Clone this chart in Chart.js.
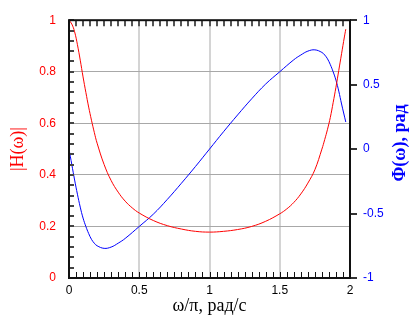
<!doctype html>
<html lang="ru">

<head>
    <meta charset="utf-8">
    <title>АЧХ и ФЧХ</title>
    <script src="https://cdn.jsdelivr.net/npm/chart.js@4.4.0/dist/chart.umd.min.js"></script>
    <style>
        body { margin: 0; background: #fff; }
    </style>
</head>

<body>
    <canvas id="myChart" width="413" height="320"></canvas>

    <script>
        // |H(w)|
        var omegaH = [0, 0.02, 0.04, 0.06, 0.08, 0.10, 0.12, 0.14, 0.16, 0.18, 0.20, 0.25, 0.30, 0.35, 0.40, 0.45, 0.50,
            0.60, 0.70, 0.80, 0.90, 1.00, 1.10, 1.20, 1.30, 1.40, 1.50, 1.55, 1.60, 1.65, 1.70, 1.75, 1.80, 1.82, 1.84,
            1.86, 1.88, 1.90, 1.92, 1.94, 1.96, 1.97];
        var magH = [1.0, 0.985, 0.955, 0.905, 0.845, 0.78, 0.72, 0.663, 0.612, 0.565, 0.523, 0.44, 0.378, 0.333, 0.298,
            0.272, 0.252, 0.223, 0.203, 0.19, 0.181, 0.178, 0.181, 0.188, 0.20, 0.22, 0.249, 0.268, 0.293, 0.326, 0.368,
            0.42, 0.50, 0.537, 0.577, 0.623, 0.68, 0.74, 0.805, 0.87, 0.935, 0.965];

        // Phi(w), rad
        var omegaP = [0, 0.02, 0.04, 0.06, 0.08, 0.10, 0.12, 0.14, 0.16, 0.18, 0.20, 0.25, 0.30, 0.35, 0.40, 0.50, 0.60,
            0.70, 0.80, 0.90, 1.00, 1.10, 1.20, 1.30, 1.40, 1.50, 1.60, 1.65, 1.70, 1.75, 1.80, 1.82, 1.84, 1.86, 1.88,
            1.90, 1.92, 1.94, 1.97];
        var phase = [0.0, -0.12, -0.24, -0.35, -0.45, -0.535, -0.60, -0.655, -0.70, -0.73, -0.75, -0.77, -0.76, -0.73,
            -0.693, -0.60, -0.505, -0.39, -0.265, -0.135, 0.0, 0.135, 0.265, 0.39, 0.505, 0.60, 0.693, 0.73, 0.76, 0.77,
            0.75, 0.73, 0.70, 0.655, 0.60, 0.535, 0.45, 0.35, 0.21];

        var xTitle = 'ω/π, рад/с';
        var yTitle = '|H(ω)|';
        var y2Title = 'Φ(ω), рад';

        var sans = 'Liberation Sans';
        var serif = 'Liberation Serif';

        function pts(xs, ys) {
            return xs.map(function (x, i) { return { x: x, y: ys[i] }; });
        }
        function fmt(v) {
            return String(+v.toFixed(2));
        }

        // frame, inner minor ticks and the right title
        var framePlugin = {
            id: 'frame',
            afterDatasetsDraw: function (chart) {
                var c = chart.ctx;
                var a = chart.chartArea;
                var x = chart.scales.x, y = chart.scales.y, y2 = chart.scales.y2;
                c.save();
                var i, v, p;
                // bottom ticks (inside)
                c.strokeStyle = '#111';
                c.lineWidth = 1;
                for (i = 0; i <= 40; i++) {
                    p = Math.round(x.getPixelForValue(i * 0.05)) + 0.5;
                    c.beginPath(); c.moveTo(p, a.bottom); c.lineTo(p, a.bottom - 6); c.stroke();
                }
                // top ticks
                c.strokeStyle = '#555';
                c.lineWidth = 2;
                for (i = 0; i <= 40; i++) {
                    p = Math.round(x.getPixelForValue(i * 0.05));
                    c.beginPath(); c.moveTo(p, a.top); c.lineTo(p, a.top + 6); c.stroke();
                }
                // left ticks
                c.strokeStyle = '#444';
                c.lineWidth = 2;
                for (i = 0; i <= 25; i++) {
                    p = Math.round(y.getPixelForValue(i * 0.04));
                    c.beginPath(); c.moveTo(a.left, p); c.lineTo(a.left + 5, p); c.stroke();
                }
                // right ticks (outside)
                c.strokeStyle = '#333';
                for (v = -1; v <= 1; v += 0.5) {
                    p = Math.round(y2.getPixelForValue(v));
                    c.beginPath(); c.moveTo(a.right, p); c.lineTo(a.right + 7, p); c.stroke();
                }
                // frame
                c.strokeStyle = '#111';
                c.lineWidth = 2;
                c.strokeRect(a.left, a.top, a.right - a.left, a.bottom - a.top);

                // right axis title, reading bottom to top
                c.translate(400, 143);
                c.rotate(-Math.PI / 2);
                c.font = 'bold 18px "' + serif + '"';
                c.fillStyle = '#0000ff';
                c.textAlign = 'center';
                c.textBaseline = 'middle';
                c.fillText(y2Title, 0, 0);
                c.restore();
            }
        };

        var ctx = document.getElementById('myChart');

        var myChart = new Chart(ctx, {
            type: 'line',
            data: {
                datasets: [{
                    label: '|H|',
                    data: pts(omegaH, magH),
                    borderColor: '#ff0000',
                    borderWidth: 1,
                    pointRadius: 0,
                    tension: 0.4,
                    yAxisID: 'y'
                },
                {
                    label: 'Phi',
                    data: pts(omegaP, phase),
                    borderColor: '#0000ff',
                    borderWidth: 1,
                    pointRadius: 0,
                    tension: 0.4,
                    yAxisID: 'y2'
                }]
            },
            options: {
                responsive: false,
                animation: false,
                layout: { padding: { top: 12, left: 0, right: 0, bottom: 0 } },
                plugins: {
                    legend: { display: false },
                    tooltip: { enabled: false }
                },
                scales: {
                    x: {
                        type: 'linear',
                        position: 'bottom',
                        min: 0,
                        max: 2,
                        afterFit: function (s) { s.height = 42; },
                        border: { display: false },
                        grid: {
                            drawTicks: false,
                            lineWidth: 2,
                            color: function (c) {
                                var v = c.tick ? c.tick.value : 0;
                                return (v <= 0 || v >= 2) ? 'rgba(0,0,0,0)' : '#d4d4d4';
                            }
                        },
                        ticks: {
                            stepSize: 0.5,
                            padding: 5,
                            color: '#000',
                            font: { family: sans, size: 12 },
                            maxRotation: 0,
                            callback: fmt
                        },
                        title: {
                            display: true,
                            text: xTitle,
                            color: '#000',
                            font: { family: serif, size: 18 },
                            padding: { top: 0, bottom: 3 }
                        }
                    },
                    y: {
                        position: 'left',
                        min: 0,
                        max: 1,
                        afterFit: function (s) { s.width = 69; },
                        border: { display: false },
                        grid: {
                            drawTicks: false,
                            color: function (c) {
                                var v = c.tick ? c.tick.value : 0;
                                return (v <= 0 || v >= 1) ? 'rgba(0,0,0,0)' : '#a8a8a8';
                            }
                        },
                        ticks: {
                            stepSize: 0.2,
                            padding: 13,
                            color: '#ff0000',
                            font: { family: sans, size: 12 },
                            callback: fmt
                        },
                        title: {
                            display: true,
                            text: yTitle,
                            color: '#ff0000',
                            font: { family: serif, size: 18 },
                            padding: 7
                        }
                    },
                    y2: {
                        position: 'right',
                        min: -1,
                        max: 1,
                        afterFit: function (s) { s.width = 63; },
                        border: { display: false },
                        grid: { drawTicks: false, drawOnChartArea: false },
                        ticks: {
                            stepSize: 0.5,
                            padding: 13,
                            color: '#0000ff',
                            font: { family: sans, size: 12 },
                            callback: fmt
                        }
                    }
                }
            },
            plugins: [framePlugin]
        });
    </script>
</body>

</html>
